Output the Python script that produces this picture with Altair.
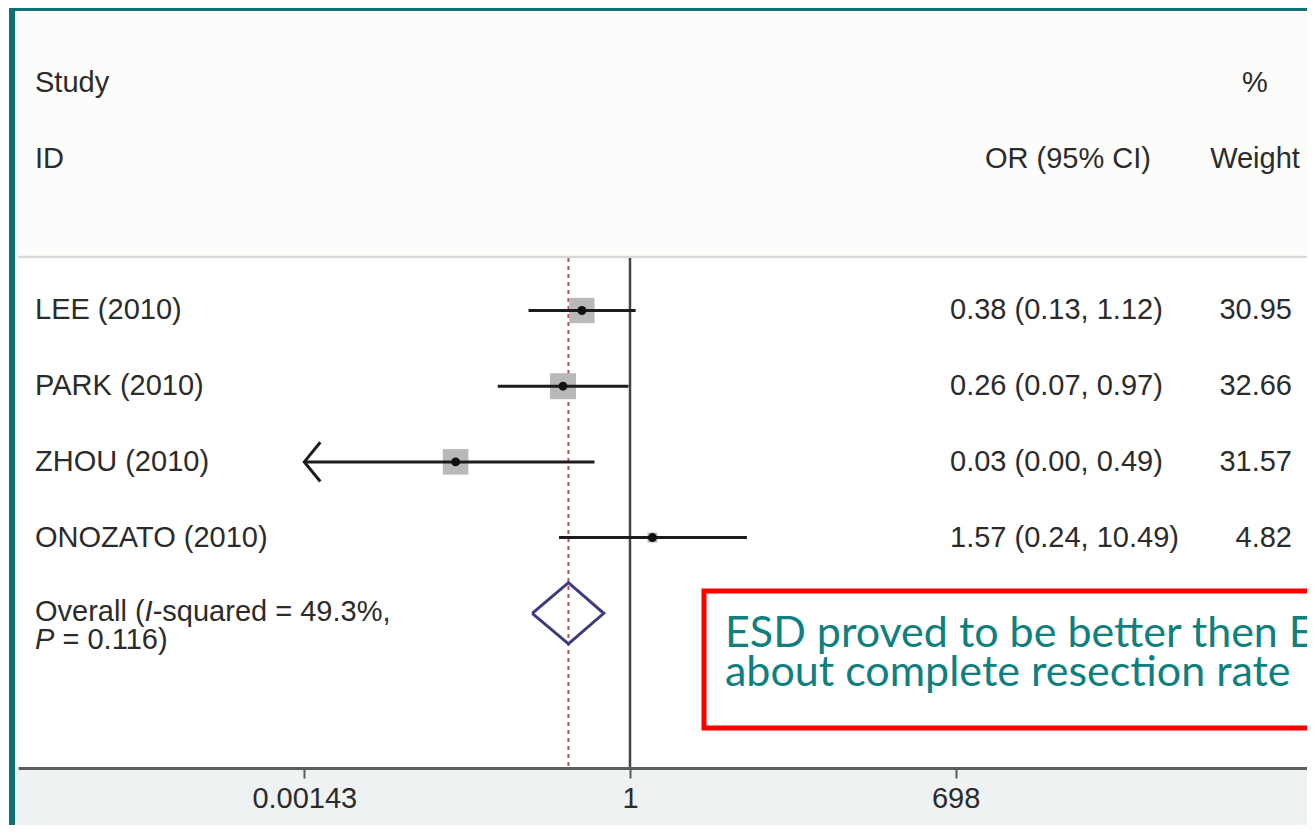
import altair as alt
import pandas as pd

# ---------------- data ----------------
studies = ["LEE (2010)", "PARK (2010)", "ZHOU (2010)", "ONOZATO (2010)"]
odds = [0.38, 0.26, 0.03, 1.57]
ci_low = [0.13, 0.07, 0.00, 0.24]
ci_high = [1.12, 0.97, 0.49, 10.49]
weights = [30.95, 32.66, 31.57, 4.82]
or_labels = ["0.38 (0.13, 1.12)", "0.26 (0.07, 0.97)", "0.03 (0.00, 0.49)", "1.57 (0.24, 10.49)"]
weight_labels = ["30.95", "32.66", "31.57", "4.82"]

overall_or = 0.29
overall_low = 0.14
overall_high = 0.59

tick_values = [0.00143, 1, 698]

annotation_lines = ["ESD proved to be better then EMR", "about complete resection rate"]

# ---------------- layout ----------------
W, H = 1289, 510
PAD = {"left": 10, "top": 250, "right": 0, "bottom": 57}
PX_PER_DECADE = 114.5
NULL_PX = 612  # plot-x of OR = 1
x_domain = [10 ** (-NULL_PX / PX_PER_DECADE), 10 ** ((W - NULL_PX) / PX_PER_DECADE)]
xscale = alt.Scale(type="log", domain=x_domain, nice=False)
yscale = alt.Scale(domain=[0.3065, 7.044], reverse=True, nice=False, zero=False)
xmin_disp = tick_values[0]

FONT = "Liberation Sans"
FS = 29
TXT = "#2b2b2b"

xaxis = alt.Axis(values=tick_values, format=".3~g", title=None, grid=False,
                 domainColor="#5c5c5c", domainWidth=3, tickColor="#5c5c5c",
                 tickWidth=2, tickSize=10, labelFont=FONT, labelFontSize=FS,
                 labelColor=TXT, labelPadding=6, labelFlush=False,
                 labelOverlap=False, zindex=1)


def X(field):
    return alt.X(field, type="quantitative", scale=xscale, axis=xaxis)


def Y(field):
    return alt.Y(field, type="quantitative", scale=yscale, axis=None)


rows = list(range(1, len(studies) + 1))
df = pd.DataFrame({"study": studies, "row": rows, "est": odds, "lo": ci_low,
                   "hi": ci_high, "w": weights, "or_txt": or_labels,
                   "w_txt": weight_labels})
df["lo_draw"] = df["lo"].clip(lower=xmin_disp)

# background panels (pixel positions relative to plot origin)
bg = pd.DataFrame({
    "x": [-3, -3, -9, -9],
    "x2": [1300, 1300, -3, 1300],
    "y": [-247, 512, -253, -253],
    "y2": [-2, 580, 580, -247],
    "c": ["#fcfcfa", "#eef2f2", "#0e7272", "#0e7272"],
})
bg_layer = alt.Chart(bg).mark_rect().encode(
    x=alt.X("x:Q", scale=None), x2="x2", y=alt.Y("y:Q", scale=None), y2="y2",
    color=alt.Color("c:N", scale=None))

sep = alt.Chart(pd.DataFrame({"a": [0]})).mark_rule(color="#d9d9d3", strokeWidth=2.5).encode(
    x=alt.value(0), x2=alt.value(W + 5), y=alt.value(-1))

overall_df = pd.DataFrame({"x": [overall_or]})
dashed = alt.Chart(overall_df).mark_rule(color="#c0504d", strokeDash=[4, 4], strokeWidth=2).encode(
    x=X("x"))

null_line = alt.Chart(pd.DataFrame({"x": [1.0]})).mark_rule(color="#454545", strokeWidth=2.5).encode(
    x=X("x"))

squares = alt.Chart(df).mark_square(color="#b9b9b9", opacity=1).encode(
    x=X("est"), y=Y("row"),
    size=alt.Size("w:Q", scale=alt.Scale(domain=[0, max(weights)], range=[0, 676]), legend=None))

ci = alt.Chart(df).mark_rule(color="#1c1c1c", strokeWidth=3).encode(
    x=X("lo_draw"), x2="hi", y=Y("row"))

# arrow for CIs clipped at the display minimum
arrow_rows = []
for r, lo in zip(rows, ci_low):
    if lo < xmin_disp:
        arm = xmin_disp * 10 ** 0.14
        arrow_rows += [
            {"r": r, "x": arm, "y": r - 0.26, "o": 0},
            {"r": r, "x": xmin_disp, "y": r, "o": 1},
            {"r": r, "x": arm, "y": r + 0.26, "o": 2},
        ]
arrow = alt.Chart(pd.DataFrame(arrow_rows)).mark_line(color="#1c1c1c", strokeWidth=3, strokeJoin="miter").encode(
    x=X("x"), y=Y("y"), order="o:Q", detail="r:N")

dots = alt.Chart(df).mark_circle(size=80, color="#111111", opacity=1).encode(
    x=X("est"), y=Y("row"))

orow = len(studies) + 1
h = 0.404
diamond_df = pd.DataFrame({
    "x": [overall_low, overall_or, overall_high, overall_or, overall_low],
    "y": [orow, orow - h, orow, orow + h, orow],
    "o": [0, 1, 2, 3, 4],
})
diamond = alt.Chart(diamond_df).mark_line(color="#3b3b7d", strokeWidth=3, strokeJoin="miter").encode(
    x=X("x"), y=Y("y"), order="o:Q")


def text_layer(data, xpx, align="left", style="normal", dy=0, field="t"):
    return alt.Chart(data).mark_text(align=align, baseline="middle", font=FONT, fontSize=FS,
                                     color=TXT, fontStyle=style, dy=dy).encode(
        x=alt.value(xpx), y=Y("row"), text=f"{field}:N")


names = text_layer(df, 17, field="study")
or_txt = text_layer(df, 932, field="or_txt")
w_txt = text_layer(df, 1274, align="right", field="w_txt")

hdr_left = text_layer(pd.DataFrame({"t": ["Study", "ID"], "row": [-2, -1]}), 17)
hdr_or = text_layer(pd.DataFrame({"t": ["OR (95% CI)"], "row": [-1]}), 1050, align="center")
hdr_w = text_layer(pd.DataFrame({"t": ["%", "Weight"], "row": [-2, -1]}), 1237, align="center")

ov = pd.DataFrame({"row": [orow]})
ov1a = text_layer(ov.assign(t="Overall ("), 17, dy=-1)
ov1b = text_layer(ov.assign(t="I"), 126.6, style="italic", dy=-1)
ov1c = text_layer(ov.assign(t="-squared = 49.3%,"), 134.7, dy=-1)
ov2a = text_layer(ov.assign(t="P"), 17, style="italic", dy=27)
ov2b = text_layer(ov.assign(t="= 0.116)"), 44.5, dy=27)

box = alt.Chart(pd.DataFrame({"a": [0]})).mark_rect(fill="white", stroke="#ff0000", strokeWidth=5).encode(
    x=alt.value(686), x2=alt.value(1330), y=alt.value(333), y2=alt.value(470))

ann = alt.Chart(pd.DataFrame({"t": annotation_lines, "py": [389, 428]})).mark_text(
    align="left", baseline="alphabetic", font="Lato", fontSize=43, color="#0f8080").encode(
    x=alt.value(707), y=alt.Y("py:Q", scale=None), text="t:N")

chart = alt.layer(
    bg_layer, sep, dashed, null_line, squares, ci, arrow, dots, diamond,
    names, or_txt, w_txt, hdr_left, hdr_or, hdr_w,
    ov1a, ov1b, ov1c, ov2a, ov2b, box, ann,
).properties(
    width=W, height=H, padding=PAD, autosize=alt.AutoSizeParams(type="none"),
    background="white",
).configure_view(stroke=None)

chart.save("out.html", embed_options={"renderer": "svg", "actions": False})
